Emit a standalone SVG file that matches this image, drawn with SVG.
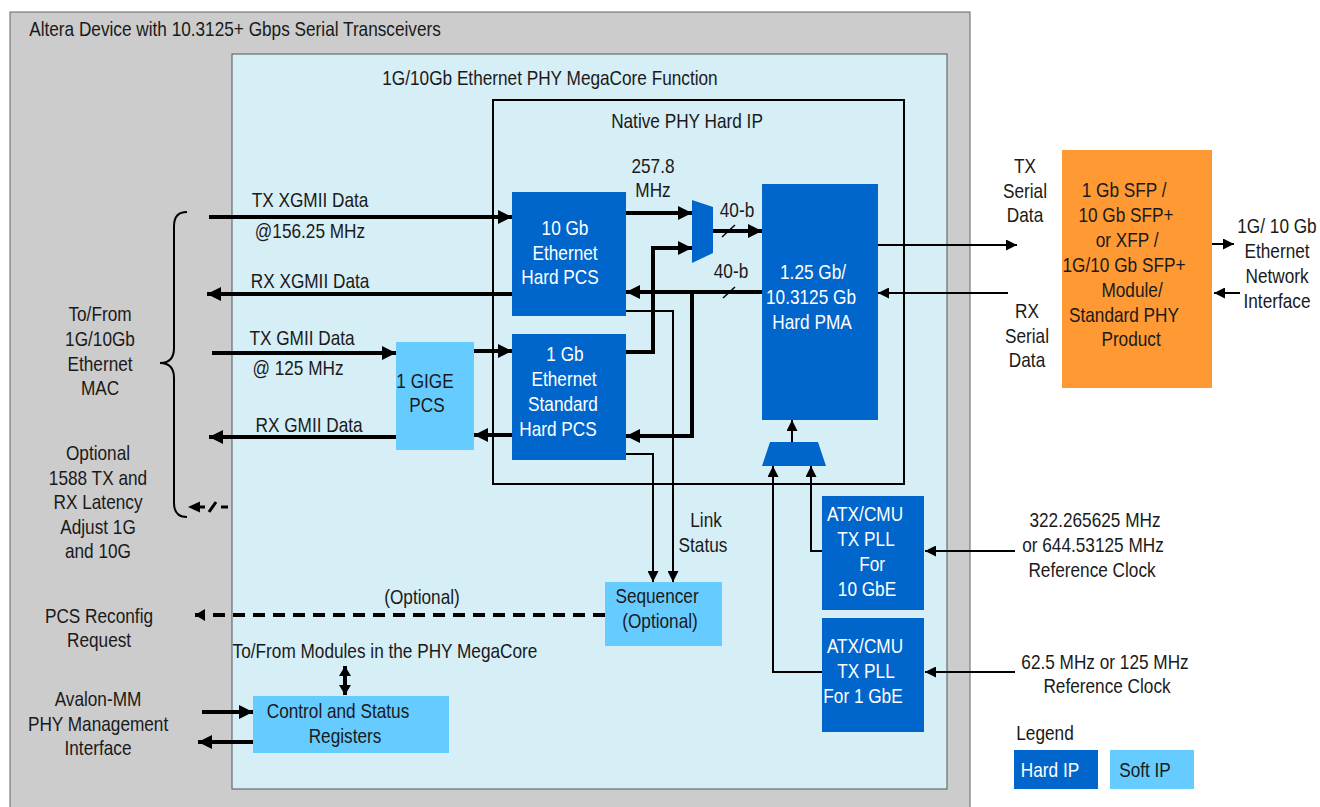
<svg xmlns="http://www.w3.org/2000/svg" width="1320" height="807" viewBox="0 0 1320 807">
<style>
text{font-family:'Liberation Sans',Arial,sans-serif;font-size:21px;fill:#1a1a1a;text-anchor:middle;transform-box:fill-box;transform-origin:50% 50%;transform:scaleX(0.82)}
.w{fill:#fff}
.hard{fill:#0066CC}
.soft{fill:#66CCFF}
.thick{fill:none;stroke:#000;stroke-width:4}
.thin{fill:none;stroke:#000;stroke-width:2}
</style>
<defs>
<marker id="ah" viewBox="0 0 14 14" markerWidth="14" markerHeight="14" refX="14" refY="7" orient="auto" markerUnits="userSpaceOnUse"><path d="M0,0 L14,7 L0,14 z" fill="#000"/></marker>
<marker id="ahm" viewBox="0 0 10 12" markerWidth="10" markerHeight="12" refX="10" refY="6" orient="auto" markerUnits="userSpaceOnUse"><path d="M0,0 L10,6 L0,12 z" fill="#000"/></marker>
<marker id="ahms" viewBox="0 0 10 12" markerWidth="10" markerHeight="12" refX="0" refY="6" orient="auto" markerUnits="userSpaceOnUse"><path d="M10,0 L0,6 L10,12 z" fill="#000"/></marker>
<marker id="as" viewBox="0 0 11 11" markerWidth="11" markerHeight="11" refX="11" refY="5.5" orient="auto" markerUnits="userSpaceOnUse"><path d="M0,0 L11,5.5 L0,11 z" fill="#000"/></marker>
</defs>

<g id="device">
<rect x="10" y="12" width="960" height="800" fill="#CCCCCC" stroke="#666" stroke-width="1"/>
<text x="235" y="36">Altera Device with 10.3125+ Gbps Serial Transceivers</text>
</g>
<g id="megacore">
<rect x="232" y="54" width="715" height="735" fill="#D6EEF6" stroke="#555" stroke-width="1"/>
<text x="550" y="85">1G/10Gb Ethernet PHY MegaCore Function</text>
</g>
<g id="native-phy">
<rect x="493" y="100" width="411" height="384" fill="none" stroke="#000" stroke-width="2"/>
<text x="687" y="128">Native PHY Hard IP</text>
</g>

<g id="connectors">
<path class="thick" d="M209,217 H512" marker-end="url(#ah)"/>
<path class="thick" d="M512,294 H207" marker-end="url(#ah)"/>
<path class="thick" d="M212,353 H396" marker-end="url(#ah)"/>
<path class="thick" d="M396,437 H209" marker-end="url(#ah)"/>
<path class="thick" d="M474,351 H512" marker-end="url(#ah)"/>
<path class="thick" d="M512,435 H474" marker-end="url(#ah)"/>
<path class="thick" d="M626,213 H692" marker-end="url(#ah)"/>
<path class="thick" d="M626,352 H653 V248 H692" marker-end="url(#ah)"/>
<path class="thick" d="M713,231 H762" marker-end="url(#ah)"/>
<path class="thick" d="M762,292 H626" marker-end="url(#ah)"/>
<path class="thick" d="M692,292 V436 H626" marker-end="url(#ah)"/>
<path class="thick" d="M202,712 H253" marker-end="url(#ah)"/>
<path class="thick" d="M253,742 H198" marker-end="url(#ah)"/>
<path class="thick" d="M345,666 V695" marker-start="url(#ahms)" marker-end="url(#ahm)"/>
<path class="thick" d="M605,615 H195" stroke-dasharray="12 8" marker-end="url(#ahm)"/>
<path class="thin" d="M878,245 H1017" marker-end="url(#as)"/>
<path class="thin" d="M1008,293 H878" marker-end="url(#as)"/>
<path class="thin" d="M1212,244 H1234" marker-end="url(#as)"/>
<path class="thin" d="M1240,293 H1214" marker-end="url(#as)"/>
<path class="thin" d="M1015,551 H925" marker-end="url(#as)"/>
<path class="thin" d="M1015,672 H925" marker-end="url(#as)"/>
<path class="thin" d="M822,551 H811 V466" marker-end="url(#as)"/>
<path class="thin" d="M822,672 H773 V466" marker-end="url(#as)"/>
<path class="thin" d="M792,442 V420" marker-end="url(#as)"/>
<path class="thin" d="M626,311 H673 V582" marker-end="url(#as)"/>
<path class="thin" d="M626,454 H653 V582" marker-end="url(#as)"/>
<path fill="none" stroke="#000" stroke-width="1.5" d="M722,237 L735,225 M723,298 L735,287"/>
<path fill="none" stroke="#000" stroke-width="2" d="M187,212 Q174,212 174,226 V348 Q174,363 160,363 Q174,363 174,378 V503 Q174,517 187,517"/>
<path fill="#000" d="M188,507 L200,501.5 L200,512.5 z"/>
<path fill="none" stroke="#000" stroke-width="3" d="M200,507 H205 M209,512 L216,502 M221,507 H228"/>
</g>

<g id="pcs10">
<rect class="hard" x="512" y="192" width="114" height="124"/>
<text class="w" x="565" y="235">10 Gb</text>
<text class="w" x="565" y="260">Ethernet</text>
<text class="w" x="560" y="284">Hard PCS</text>
</g>
<g id="pcs1">
<rect class="hard" x="512" y="334" width="114" height="126"/>
<text class="w" x="565" y="361">1 Gb</text>
<text class="w" x="564" y="386">Ethernet</text>
<text class="w" x="563" y="411">Standard</text>
<text class="w" x="558" y="436">Hard PCS</text>
</g>
<g id="tx-mux">
<polygon class="hard" points="692,200 713,207 713,253 692,263"/>
</g>
<g id="pma">
<rect class="hard" x="762" y="184" width="116" height="236"/>
<text class="w" x="813" y="279">1.25 Gb/</text>
<text class="w" x="811" y="304">10.3125 Gb</text>
<text class="w" x="812" y="329">Hard PMA</text>
</g>
<g id="clk-mux">
<polygon class="hard" points="770,442 818,442 826,466 762,466"/>
</g>
<g id="gige-pcs">
<rect class="soft" x="396" y="342" width="78" height="108"/>
<text x="425" y="388">1 GIGE</text>
<text x="427" y="412">PCS</text>
</g>
<g id="sequencer">
<rect class="soft" x="605" y="582" width="117" height="64"/>
<text x="657" y="603">Sequencer</text>
<text x="660" y="628">(Optional)</text>
</g>
<g id="pll10">
<rect class="hard" x="822" y="496" width="102" height="114"/>
<text class="w" x="865" y="521">ATX/CMU</text>
<text class="w" x="866" y="546">TX PLL</text>
<text class="w" x="872" y="571">For</text>
<text class="w" x="867" y="596">10 GbE</text>
</g>
<g id="pll1">
<rect class="hard" x="822" y="618" width="102" height="114"/>
<text class="w" x="865" y="653">ATX/CMU</text>
<text class="w" x="866" y="678">TX PLL</text>
<text class="w" x="863" y="703">For 1 GbE</text>
</g>
<g id="csr">
<rect class="soft" x="253" y="696" width="196" height="57"/>
<text x="338" y="718">Control and Status</text>
<text x="345" y="743">Registers</text>
</g>
<g id="sfp">
<rect x="1062" y="150" width="150" height="238" fill="#FF9933"/>
<text x="1124" y="197">1 Gb SFP /</text>
<text x="1126" y="222">10 Gb SFP+</text>
<text x="1127" y="247">or XFP /</text>
<text x="1124" y="272">1G/10 Gb SFP+</text>
<text x="1132" y="297">Module/</text>
<text x="1124" y="322">Standard PHY</text>
<text x="1131" y="346">Product</text>
</g>

<g id="labels">
<text x="310" y="207">TX XGMII Data</text>
<text x="310" y="238">@156.25 MHz</text>
<text x="310" y="288">RX XGMII Data</text>
<text x="302" y="345">TX GMII Data</text>
<text x="298" y="375">@ 125 MHz</text>
<text x="309" y="432">RX GMII Data</text>
<text x="653" y="173">257.8</text>
<text x="653" y="197">MHz</text>
<text x="737" y="217">40-b</text>
<text x="731" y="278">40-b</text>
<text x="706" y="527">Link</text>
<text x="703" y="552">Status</text>
<text x="100" y="321">To/From</text>
<text x="100" y="346">1G/10Gb</text>
<text x="100" y="371">Ethernet</text>
<text x="100" y="395">MAC</text>
<text x="98" y="460">Optional</text>
<text x="98" y="485">1588 TX and</text>
<text x="98" y="509">RX Latency</text>
<text x="98" y="534">Adjust 1G</text>
<text x="98" y="558">and 10G</text>
<text x="422" y="604">(Optional)</text>
<text x="99" y="623">PCS Reconfig</text>
<text x="99" y="647">Request</text>
<text x="385" y="658">To/From Modules in the PHY MegaCore</text>
<text x="98" y="706">Avalon-MM</text>
<text x="98" y="731">PHY Management</text>
<text x="98" y="755">Interface</text>
<text x="1025" y="173">TX</text>
<text x="1025" y="198">Serial</text>
<text x="1025" y="222">Data</text>
<text x="1027" y="318">RX</text>
<text x="1027" y="343">Serial</text>
<text x="1027" y="367">Data</text>
<text x="1277" y="233">1G/ 10 Gb</text>
<text x="1277" y="258">Ethernet</text>
<text x="1277" y="283">Network</text>
<text x="1277" y="308">Interface</text>
<text x="1095" y="527">322.265625 MHz</text>
<text x="1093" y="552">or 644.53125 MHz</text>
<text x="1092" y="577">Reference Clock</text>
<text x="1105" y="669">62.5 MHz or 125 MHz</text>
<text x="1107" y="693">Reference Clock</text>
</g>

<g id="legend">
<text x="1045" y="740">Legend</text>
<rect class="hard" x="1014" y="750" width="84" height="39"/>
<text class="w" x="1050" y="777">Hard IP</text>
<rect class="soft" x="1110" y="750" width="84" height="39"/>
<text x="1145" y="777">Soft IP</text>
</g>
</svg>
